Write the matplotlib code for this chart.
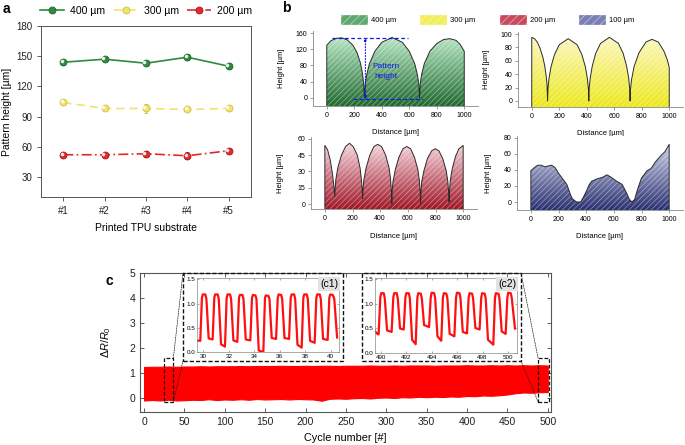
import numpy as np
import matplotlib.pyplot as plt
from matplotlib.patches import Rectangle, Patch, Polygon, ConnectionPatch
from matplotlib.lines import Line2D
from matplotlib.colors import LinearSegmentedColormap

plt.rcParams['font.family'] = ['Liberation Sans', 'DejaVu Sans']
plt.rcParams['mathtext.fontset'] = 'custom'
plt.rcParams['mathtext.rm'] = 'Liberation Sans'
plt.rcParams['mathtext.it'] = 'Liberation Sans:italic'
plt.rcParams['hatch.linewidth'] = 0.5

# ---------------- panel a: pattern height per substrate ----------------
substrates = ['#1', '#2', '#3', '#4', '#5']
h400 = [144, 147, 143, 149, 140]
e400 = [2.5, 1.5, 1.5, 2.5, 2.5]
h300 = [104, 98, 98, 97, 98]
e300 = [1.5, 2.0, 4.0, 1.5, 1.5]
h200 = [52, 52, 53, 51, 56]
e200 = [1.5, 2.0, 3.0, 3.5, 1.5]

# ---------------- panel b: surface profiles (distance um, height um) ----------------
prof400 = [(0, 130), (30, 141), (70, 147), (110, 148), (150, 143), (190, 130), (220, 112),
           (245, 86), (260, 60), (268, 36), (274, 0),
           (279, 33), (290, 56), (310, 84), (350, 115), (400, 137), (475, 149), (550, 137),
           (600, 115), (640, 84), (660, 56), (670, 33), (675, 0),
           (680, 35), (690, 58), (710, 85), (750, 115), (800, 134), (850, 144), (895, 146),
           (940, 142), (970, 132), (1000, 115)]
prof300 = [(0, 95), (20, 93), (40, 88), (60, 79), (80, 66), (95, 52), (105, 37), (111, 25),
           (115, 0),
           (118, 18), (125, 33), (140, 51), (165, 69), (200, 84), (265, 93), (330, 84),
           (365, 69), (390, 51), (405, 33), (412, 18), (415, 0),
           (418, 19), (425, 34), (440, 52), (465, 71), (500, 86), (565, 95), (630, 86),
           (665, 71), (690, 52), (705, 34), (712, 19), (715, 0),
           (718, 17), (725, 31), (745, 52), (780, 72), (830, 88), (875, 92), (920, 88),
           (960, 75), (985, 62), (1000, 50)]
prof200 = [(0, 54), (20, 50), (40, 40), (55, 28), (65, 17), (72, 7),
           (75, 15), (80, 23), (95, 34), (120, 45), (150, 53), (178, 56), (205, 53),
           (235, 45), (255, 33), (265, 22), (270, 13), (273, 5),
           (276, 14), (282, 22), (298, 33), (325, 45), (355, 53), (382, 55), (410, 53),
           (440, 45), (465, 33), (476, 22), (481, 12), (484, 0),
           (487, 12), (493, 21), (510, 32), (535, 43), (565, 51), (592, 53), (620, 51),
           (648, 43), (672, 32), (684, 21), (689, 12), (692, 0),
           (695, 12), (701, 21), (717, 31), (742, 42), (772, 49), (798, 51), (825, 49),
           (852, 42), (877, 31), (889, 21), (895, 11), (898, 2),
           (901, 12), (907, 22), (922, 33), (945, 44), (970, 51), (1000, 54)]
prof100 = [(0, 39), (25, 43), (50, 46), (75, 46), (100, 44), (150, 46), (175, 43),
           (200, 36), (230, 29), (260, 22), (285, 10), (300, 4), (330, 0), (360, 0),
           (380, 6), (400, 13), (420, 21), (440, 26), (480, 29), (520, 31), (550, 34),
           (580, 31), (620, 26), (660, 22), (690, 12), (710, 4), (730, 0), (750, 3),
           (770, 15), (800, 30), (840, 39), (870, 42), (900, 50), (940, 58), (970, 63),
           (1000, 72)]

# ---------------- panel c: cyclic response ----------------
cyc_x = np.arange(0, 501, 10)
cyc_low = [-0.10, -0.08, -0.10, -0.07, -0.10, -0.09, -0.07, -0.08, -0.05, -0.08,
           -0.06, -0.07, -0.05, -0.07, -0.04, -0.06, -0.05, -0.04, -0.06, -0.04,
           -0.05, -0.06, -0.11, -0.03, -0.02, -0.03, -0.01, 0.00, -0.02, 0.01,
           0.02, 0.00, 0.03, 0.02, 0.05, 0.03, 0.05, 0.04, 0.06, 0.05,
           0.08, 0.07, 0.10, 0.09, 0.11, 0.14, 0.19, 0.22, 0.21, 0.23, 0.24]
cyc_high = [1.24, 1.25, 1.25, 1.26, 1.25, 1.26, 1.26, 1.27, 1.26, 1.27,
            1.27, 1.27, 1.28, 1.27, 1.28, 1.28, 1.28, 1.29, 1.28, 1.28,
            1.29, 1.28, 1.29, 1.29, 1.28, 1.29, 1.29, 1.29, 1.30, 1.29,
            1.29, 1.30, 1.29, 1.30, 1.30, 1.30, 1.29, 1.30, 1.30, 1.30,
            1.31, 1.30, 1.30, 1.31, 1.30, 1.31, 1.30, 1.31, 1.30, 1.31, 1.30]

c1 = [(29.50, 0.24), (29.76, 0.23),
      (29.89, 1.12), (29.96, 1.19), (30.16, 1.19), (30.24, 1.10), (30.42, 0.28), (30.73, 0.26),
      (30.86, 1.12), (30.93, 1.19), (31.13, 1.19), (31.21, 1.10), (31.39, 0.16), (31.70, 0.11),
      (31.83, 1.12), (31.90, 1.19), (32.10, 1.19), (32.18, 1.10), (32.36, 0.24), (32.67, 0.21),
      (32.80, 1.12), (32.87, 1.18), (33.07, 1.18), (33.15, 1.10), (33.33, 0.26), (33.69, 0.24),
      (33.82, 1.12), (33.89, 1.18), (34.09, 1.17), (34.17, 1.10), (34.35, 0.03), (34.71, 0.00),
      (34.84, 1.12), (34.91, 1.17), (35.11, 1.16), (35.19, 1.10), (35.37, 0.29), (35.71, 0.27),
      (35.84, 1.12), (35.91, 1.19), (36.11, 1.18), (36.19, 1.10), (36.37, 0.29), (36.73, 0.27),
      (36.86, 1.12), (36.93, 1.19), (37.13, 1.19), (37.21, 1.10), (37.39, 0.15), (37.72, 0.09),
      (37.85, 1.12), (37.92, 1.19), (38.12, 1.19), (38.20, 1.10), (38.38, 0.23), (38.74, 0.19),
      (38.87, 1.12), (38.94, 1.19), (39.14, 1.19), (39.22, 1.10), (39.40, 0.27), (39.76, 0.25),
      (39.89, 1.12), (39.96, 1.19), (40.16, 1.18), (40.28, 1.10), (40.50, 0.30)]
c2 = [(489.53, 0.45), (489.70, 0.40), (489.84, 0.38),
      (489.97, 1.13), (490.04, 1.22), (490.24, 1.22), (490.32, 1.12), (490.50, 0.46), (490.86, 0.43),
      (490.99, 1.13), (491.06, 1.22), (491.26, 1.22), (491.34, 1.12), (491.52, 0.50), (491.81, 0.48),
      (491.94, 1.13), (492.01, 1.22), (492.21, 1.22), (492.29, 1.12), (492.47, 0.27), (492.75, 0.18),
      (492.88, 1.13), (492.95, 1.22), (493.15, 1.21), (493.23, 1.12), (493.41, 0.57), (493.80, 0.53),
      (493.93, 1.13), (494.00, 1.23), (494.20, 1.22), (494.28, 1.12), (494.46, 0.34), (494.76, 0.25),
      (494.89, 1.13), (494.96, 1.22), (495.16, 1.21), (495.24, 1.12), (495.42, 0.39), (495.79, 0.34),
      (495.92, 1.13), (495.99, 1.23), (496.19, 1.22), (496.27, 1.12), (496.45, 0.43), (496.78, 0.40),
      (496.91, 1.13), (496.98, 1.22), (497.18, 1.21), (497.26, 1.12), (497.44, 0.51), (497.77, 0.48),
      (497.90, 1.13), (497.97, 1.22), (498.17, 1.21), (498.25, 1.12), (498.43, 0.27), (498.85, 0.17),
      (498.98, 1.13), (499.05, 1.22), (499.25, 1.21), (499.33, 1.12), (499.51, 0.44), (499.82, 0.39),
      (499.95, 1.13), (500.02, 1.23), (500.22, 1.22), (500.30, 1.12), (500.55, 0.50)]

W, H = 685, 445


def fig_box(left, top, right, bottom):
    # pixel box -> figure fraction rect
    return [left / W, 1 - bottom / H, (right - left) / W, (bottom - top) / H]


fig = plt.figure(figsize=(6.85, 4.45), dpi=100)

# ======== a ========
ax_a = fig.add_axes(fig_box(41, 26, 251, 197))
xs = np.arange(1, 6)
series = [(h400, e400, '#2f8a3f', '#1f6a2c', '-', '400 µm'),
          (h300, e300, '#f1e46a', '#cfc040', (0, (5, 3)), '300 µm'),
          (h200, e200, '#e22a2a', '#a81818', (0, (6, 2, 1, 2)), '200 µm')]
handles = []
for vals, errs, col, dark, ls, lab in series:
    ax_a.errorbar(xs, vals, yerr=errs, color=col, ls=ls, lw=1.2, marker='o', ms=5,
                  mfc=col, mec=dark, mew=0.6, ecolor=dark, elinewidth=0.7, capsize=1.5,
                  zorder=3)
    ax_a.plot(xs - 0.04, np.array(vals) + 1.2, 'o', ms=1.6, color='white', alpha=0.8, zorder=4)
    handles.append(Line2D([], [], color=col, ls=ls, lw=1.2, marker='o', ms=5, mfc=col,
                          mec=dark, mew=0.6))
ax_a.set_xlim(0.46, 5.54)
ax_a.set_ylim(10, 180)
ax_a.set_yticks([30, 60, 90, 120, 150, 180])
ax_a.set_xticks(xs)
ax_a.set_xticklabels(substrates)
ax_a.tick_params(labelsize=7, length=3, width=0.6, color='#444444', labelcolor='#222222')
for s in ax_a.spines.values():
    s.set_color('#555555')
    s.set_linewidth(0.7)
ax_a.set_ylabel('Pattern height [µm]', fontsize=7.5)
ax_a.yaxis.set_label_coords(-0.14, 0.5)
ax_a.set_xlabel('Printed TPU substrate', fontsize=7.5)
ax_a.xaxis.set_label_coords(0.5, -0.15)
fig.legend(handles, [s[5] for s in series], loc='center left',
           bbox_to_anchor=(40 / W, 1 - 11 / H), ncol=3, frameon=False, fontsize=7.6,
           handlelength=2.25, handletextpad=0.6, columnspacing=0.8,
           borderaxespad=0, borderpad=0)

# ======== b ========
styles_b = [
    (prof400, '#b6e6c4', '#1f6a2e', '#5ea870', '400 µm', fig_box(313, 31, 478, 106),
     (-20, 165), [0, 40, 80, 120, 160]),
    (prof300, '#fbf7c0', '#ece81a', '#f2ee5a', '300 µm', fig_box(518, 31.6, 683, 107),
     (-9, 103.6), [0, 20, 40, 60, 80, 100]),
    (prof200, '#f6d6de', '#a01626', '#c84a5a', '200 µm', fig_box(311, 137, 477, 209),
     (-4.6, 61.8), [0, 15, 30, 45, 60]),
    (prof100, '#cdd0ea', '#2a3170', '#7a80b4', '100 µm', fig_box(517, 136, 683, 210),
     (-10, 82.5), [0, 20, 40, 60, 80]),
]
leg_b = []
axes_b = []
for prof, c_top, c_bot, c_mid, lab, rect, ylim, yt in styles_b:
    ax = fig.add_axes(rect)
    px = [p[0] for p in prof]
    py = [p[1] for p in prof]
    ybase = ylim[0]
    poly_x = [px[0]] + px + [px[-1]]
    poly_y = [ybase] + py + [ybase]
    cmap = LinearSegmentedColormap.from_list('g', [c_bot, c_top])
    grad = np.linspace(0, 1, 256)[:, None]
    im = ax.imshow(grad, extent=(px[0], px[-1], ybase, max(py)), origin='lower',
                   cmap=cmap, aspect='auto', zorder=1)
    clip = Polygon(np.column_stack([poly_x, poly_y]), closed=True, facecolor='none',
                   edgecolor='none')
    ax.add_patch(clip)
    im.set_clip_path(clip)
    ax.fill(poly_x, poly_y, facecolor='none', edgecolor=(1, 1, 1, 0.45), hatch='//////',
            linewidth=0, zorder=2)
    ax.plot(poly_x, poly_y, color='#2a2a2a', lw=0.7, zorder=3)
    ax.set_xlim(-100, 1100)
    ax.set_ylim(*ylim)
    ax.set_xticks([0, 200, 400, 600, 800, 1000])
    ax.set_yticks(yt)
    ax.tick_params(labelsize=5, length=2, width=0.5, color='#777777', pad=2)
    for k in ['top', 'right']:
        ax.spines[k].set_visible(False)
    for k in ['left', 'bottom']:
        ax.spines[k].set_color('#888888')
        ax.spines[k].set_linewidth(0.6)
    ax.set_ylabel('Height [µm]', fontsize=5.5)
    ax.set_xlabel('Distance [µm]', fontsize=5.5)
    axes_b.append(ax)
    leg_b.append(Patch(facecolor=c_mid, edgecolor=(1, 1, 1, 0.6), hatch='////', lw=0.3))

axes_b[0].yaxis.set_label_coords(-0.17, 0.5)
axes_b[0].xaxis.set_label_coords(0.5, -0.3)
axes_b[1].yaxis.set_label_coords(-0.17, 0.5)
axes_b[1].xaxis.set_label_coords(0.5, -0.31)
axes_b[2].yaxis.set_label_coords(-0.16, 0.5)
axes_b[2].xaxis.set_label_coords(0.5, -0.33)
axes_b[3].yaxis.set_label_coords(-0.15, 0.5)
axes_b[3].xaxis.set_label_coords(0.5, -0.31)

# pattern height annotation
axb = axes_b[0]
axb.plot([40, 590], [148, 148], color='#1515ee', ls=(0, (3, 2)), lw=0.9, zorder=5)
axb.plot([190, 700], [-3, -3], color='#1515ee', ls=(0, (3, 2)), lw=0.9, zorder=5)
axb.annotate('', xy=(281, 148), xytext=(281, -3),
             arrowprops=dict(arrowstyle='<|-|>', color='#1515ee', lw=0.8, ls=':',
                             mutation_scale=4, shrinkA=0, shrinkB=0), zorder=5)
axb.text(430, 66, 'Pattern\nheight', color='#1515ee', fontsize=6, ha='center',
         va='center', linespacing=1.6, zorder=5)

fig.legend(leg_b, [s[4] for s in styles_b], loc='center left',
           bbox_to_anchor=(341 / W, 1 - 20 / H), ncol=4, frameon=False, fontsize=5.5,
           handlelength=3.5, handleheight=1.7, handletextpad=0.4, columnspacing=3.2,
           borderaxespad=0, borderpad=0)

# ======== c ========
ax_c = fig.add_axes(fig_box(140, 273, 551, 412))
ax_c.fill_between(cyc_x, cyc_low, cyc_high, color='#ff0000', lw=0.8, edgecolor='#ff0000')
ax_c.set_xlim(-5, 504)
ax_c.set_ylim(-0.56, 5.0)
ax_c.set_xticks(np.arange(0, 501, 50))
ax_c.set_yticks([0, 1, 2, 3, 4, 5])
ax_c.tick_params(labelsize=7.5, length=3, width=0.6, color='#444444', direction='in',
                 top=True, right=True, labelcolor='#222222')
for s in ax_c.spines.values():
    s.set_color('#555555')
    s.set_linewidth(0.8)
ax_c.set_xlabel('Cycle number [#]', fontsize=7.8)
ax_c.xaxis.set_label_coords(0.5, -0.15)
ax_c.set_ylabel(r'$\Delta R/R_0$', fontsize=7.8)
ax_c.yaxis.set_label_coords(-0.066, 0.5)

dash = (0, (3, 1.5))
zoom_rects = [(25.1, 36.3), (488.0, 501.0)]
for x0, x1 in zoom_rects:
    ax_c.add_patch(Rectangle((x0, -0.15), x1 - x0, 1.75, fill=False, ls=dash, lw=0.9,
                             edgecolor='#111111', zorder=4))

# inset frames (dashed) in figure pixels
boxes = [(183, 273, 343, 361), (362, 273, 521, 361)]
for l, t, r, b in boxes:
    fig.add_artist(Rectangle((l / W, 1 - b / H), (r - l) / W, (b - t) / H, fill=False,
                             ls=dash, lw=1.0, edgecolor='#111111',
                             transform=fig.transFigure, zorder=5))

conns = [((36.3, 1.6), (183, 273)), ((36.3, -0.15), (183, 361)),
         ((488.0, 1.6), (521, 273)), ((488.0, -0.15), (521, 361))]
for (dx, dy), (fx, fy) in conns:
    cp = ConnectionPatch(xyA=(dx, dy), coordsA=ax_c.transData,
                         xyB=(fx / W, 1 - fy / H), coordsB=fig.transFigure,
                         ls=(0, (2, 1.5)), lw=0.5, color='#222222', zorder=5)
    fig.add_artist(cp)

insets = [(c1, fig_box(196.7, 278, 339, 352), (29.48, 40.65), [30, 32, 34, 36, 38, 40], '(c1)'),
          (c2, fig_box(374.7, 278, 517, 353), (489.53, 500.71),
           [490, 492, 494, 496, 498, 500], '(c2)')]
for data, rect, xl, xt, lab in insets:
    axi = fig.add_axes(rect)
    axi.plot([p[0] for p in data], [p[1] for p in data], color='#ff1010', lw=1.6,
             solid_joinstyle='round')
    axi.set_xlim(*xl)
    axi.set_ylim(0, 1.53)
    axi.set_xticks(xt)
    axi.set_yticks([0.0, 0.5, 1.0, 1.5])
    axi.yaxis.set_major_formatter(plt.FormatStrFormatter('%.1f'))
    axi.tick_params(labelsize=4.5, length=1.5, width=0.4, direction='in', pad=1.2,
                    top=True, right=True, color='#666666')
    for s in axi.spines.values():
        s.set_color('#888888')
        s.set_linewidth(0.5)
    axi.text(0.995, 0.985, lab, transform=axi.transAxes, ha='right', va='top',
             fontsize=7.5, bbox=dict(facecolor='#e2e2e2', edgecolor='none', pad=1.6))

# panel letters
fig.text(3 / W, 1 - 9 / H, 'a', fontsize=10, fontweight='bold', va='center')
fig.text(282 / W, 1 - 8 / H, 'b', fontsize=10, fontweight='bold', va='center')
fig.text(105 / W, 1 - 281 / H, 'c', fontsize=10, fontweight='bold', va='center')

fig.savefig('out.png', dpi=100)
